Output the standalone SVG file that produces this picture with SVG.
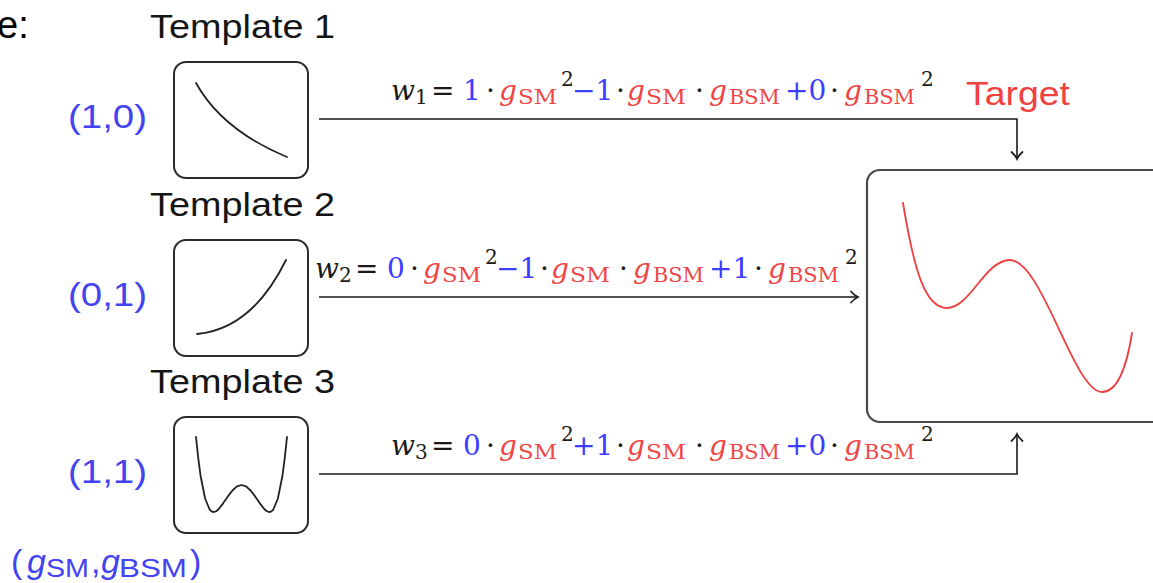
<svg xmlns="http://www.w3.org/2000/svg" width="1153" height="583" viewBox="0 0 1153 583">
<style>
.box{fill:#fff;stroke:#2b2b2b;stroke-width:2}
.tbox{fill:#fff;stroke:#4a4a4a;stroke-width:2.2}
.crv{fill:none;stroke:#222;stroke-width:1.8;stroke-linejoin:round;stroke-linecap:round}
.tcrv{fill:none;stroke:#ef3e3e;stroke-width:1.8;stroke-linecap:round}
.ttl{font-family:"Liberation Sans",Arial,sans-serif;font-size:34px;fill:#151515}
.lbl{font-family:"Liberation Sans",Arial,sans-serif;font-size:34px;fill:#4343f0}
.eq{font-family:"DejaVu Serif","Liberation Serif",serif;font-size:28px;fill:#1a1a1a}
.it{font-style:italic}
.s{font-size:20px}
.b{fill:#3d3dff}
.r{fill:#f04545}
.k{fill:#1a1a1a}
.conn{fill:none;stroke:#1a1a1a;stroke-width:1.6}
</style>
<defs>
<marker id="ah" markerWidth="14" markerHeight="14" refX="12" refY="7" orient="auto" markerUnits="userSpaceOnUse">
<path d="M5,1.5 Q8.5,5.5 12,7 Q8.5,8.5 5,12.5" fill="none" stroke="#1a1a1a" stroke-width="1.7" stroke-linecap="round"/>
</marker>
</defs>
<text x="-3" y="38" font-family="Liberation Sans,Arial,sans-serif" font-size="38" fill="#000">e:</text>

<g id="connectors">
<path class="conn" d="M319,119 H1017 V159" marker-end="url(#ah)"/>
<path class="conn" d="M319,297 H858" marker-end="url(#ah)"/>
<path class="conn" d="M319,474 H1017 V434" marker-end="url(#ah)"/>
</g>

<g id="template1">
<text class="ttl" x="150" y="38" textLength="185" lengthAdjust="spacingAndGlyphs">Template 1</text>
<rect class="box" x="174" y="62" width="134" height="116" rx="12"/>
<path class="crv" d="M196,83 Q222,130 287,157"/>
<text class="lbl" x="68" y="128" textLength="79" lengthAdjust="spacingAndGlyphs">(1,0)</text>
</g>

<g id="template2">
<text class="ttl" x="150" y="216" textLength="185" lengthAdjust="spacingAndGlyphs">Template 2</text>
<rect class="box" x="174" y="240" width="134" height="116" rx="12"/>
<path class="crv" d="M197,334 Q252,329 286,260"/>
<text class="lbl" x="68" y="306" textLength="79" lengthAdjust="spacingAndGlyphs">(0,1)</text>
</g>

<g id="template3">
<text class="ttl" x="150" y="393" textLength="185" lengthAdjust="spacingAndGlyphs">Template 3</text>
<rect class="box" x="174" y="417" width="134" height="116" rx="12"/>
<polyline class="crv" points="196,437 198.3,458.6 200.55,475.7 205.1,498.5 209.65,509.5 211.9,511.6 214.2,512 216.5,511 218.75,509 223.3,503.1 227.85,496.4 232.4,490.5 236.95,486.4 241.5,485 246.05,486.4 250.6,490.5 255.15,496.4 259.7,503.1 264.25,509 266.5,511 268.8,512 271.1,511.6 273.35,509.5 277.9,498.5 282.45,475.7 284.7,458.6 287,437"/>
<text class="lbl" x="68" y="483" textLength="79" lengthAdjust="spacingAndGlyphs">(1,1)</text>
</g>

<g id="coupling-label">
<text class="lbl" y="573"><tspan x="11">(</tspan><tspan x="27" font-style="italic">g</tspan><tspan x="46" y="577" font-size="25" textLength="43" lengthAdjust="spacingAndGlyphs">SM</tspan><tspan x="91" y="573">,</tspan><tspan x="101" font-style="italic">g</tspan><tspan x="119" y="577" font-size="25" textLength="68" lengthAdjust="spacingAndGlyphs">BSM</tspan><tspan x="190" y="573">)</tspan></text>
</g>

<g id="target">
<text x="966" y="105" font-family="Liberation Sans,Arial,sans-serif" font-size="34" fill="#f04040" textLength="104" lengthAdjust="spacingAndGlyphs">Target</text>
<rect class="tbox" x="867" y="170" width="310" height="252" rx="13"/>
<path class="tcrv" d="M903,203 C914,270 925,308 947,308 C970,308 985,260 1010,260 C1042,260 1074,392 1102,392 C1118,392 1127,365 1132,333"/>
</g>

<g id="eq1">
<text class="eq"><tspan class="it k" x="391" y="100">w</tspan><tspan class="s k" x="415" y="104">1</tspan><tspan class="k" x="431" y="100">=</tspan><tspan class="b" x="463">1</tspan><tspan class="k" x="486">·</tspan><tspan class="it r" x="499">g</tspan><tspan class="s r" x="518" y="104" textLength="39" lengthAdjust="spacingAndGlyphs">SM</tspan><tspan class="s k" x="561" y="86">2</tspan><tspan class="b" x="572" y="100">−1</tspan><tspan class="k" x="616">·</tspan><tspan class="it r" x="627">g</tspan><tspan class="s r" x="646" y="104" textLength="40" lengthAdjust="spacingAndGlyphs">SM</tspan><tspan class="k" x="695" y="100">·</tspan><tspan class="it r" x="709">g</tspan><tspan class="s r" x="729" y="104" textLength="51" lengthAdjust="spacingAndGlyphs">BSM</tspan><tspan class="b" x="785" y="100">+0</tspan><tspan class="k" x="830">·</tspan><tspan class="it r" x="844">g</tspan><tspan class="s r" x="864" y="104" textLength="51" lengthAdjust="spacingAndGlyphs">BSM</tspan><tspan class="s k" x="921" y="86">2</tspan></text>
</g>

<g id="eq2">
<text class="eq"><tspan class="it k" x="315" y="278">w</tspan><tspan class="s k" x="339" y="282">2</tspan><tspan class="k" x="355" y="278">=</tspan><tspan class="b" x="387">0</tspan><tspan class="k" x="410">·</tspan><tspan class="it r" x="423">g</tspan><tspan class="s r" x="442" y="282" textLength="39" lengthAdjust="spacingAndGlyphs">SM</tspan><tspan class="s k" x="485" y="264">2</tspan><tspan class="b" x="496" y="278">−1</tspan><tspan class="k" x="540">·</tspan><tspan class="it r" x="551">g</tspan><tspan class="s r" x="570" y="282" textLength="40" lengthAdjust="spacingAndGlyphs">SM</tspan><tspan class="k" x="619" y="278">·</tspan><tspan class="it r" x="633">g</tspan><tspan class="s r" x="653" y="282" textLength="51" lengthAdjust="spacingAndGlyphs">BSM</tspan><tspan class="b" x="709" y="278">+1</tspan><tspan class="k" x="754">·</tspan><tspan class="it r" x="768">g</tspan><tspan class="s r" x="788" y="282" textLength="51" lengthAdjust="spacingAndGlyphs">BSM</tspan><tspan class="s k" x="845" y="264">2</tspan></text>
</g>

<g id="eq3">
<text class="eq"><tspan class="it k" x="391" y="455">w</tspan><tspan class="s k" x="415" y="459">3</tspan><tspan class="k" x="431" y="455">=</tspan><tspan class="b" x="463">0</tspan><tspan class="k" x="486">·</tspan><tspan class="it r" x="499">g</tspan><tspan class="s r" x="518" y="459" textLength="39" lengthAdjust="spacingAndGlyphs">SM</tspan><tspan class="s k" x="561" y="441">2</tspan><tspan class="b" x="572" y="455">+1</tspan><tspan class="k" x="616">·</tspan><tspan class="it r" x="627">g</tspan><tspan class="s r" x="646" y="459" textLength="40" lengthAdjust="spacingAndGlyphs">SM</tspan><tspan class="k" x="695" y="455">·</tspan><tspan class="it r" x="709">g</tspan><tspan class="s r" x="729" y="459" textLength="51" lengthAdjust="spacingAndGlyphs">BSM</tspan><tspan class="b" x="785" y="455">+0</tspan><tspan class="k" x="830">·</tspan><tspan class="it r" x="844">g</tspan><tspan class="s r" x="864" y="459" textLength="51" lengthAdjust="spacingAndGlyphs">BSM</tspan><tspan class="s k" x="921" y="441">2</tspan></text>
</g>
</svg>
